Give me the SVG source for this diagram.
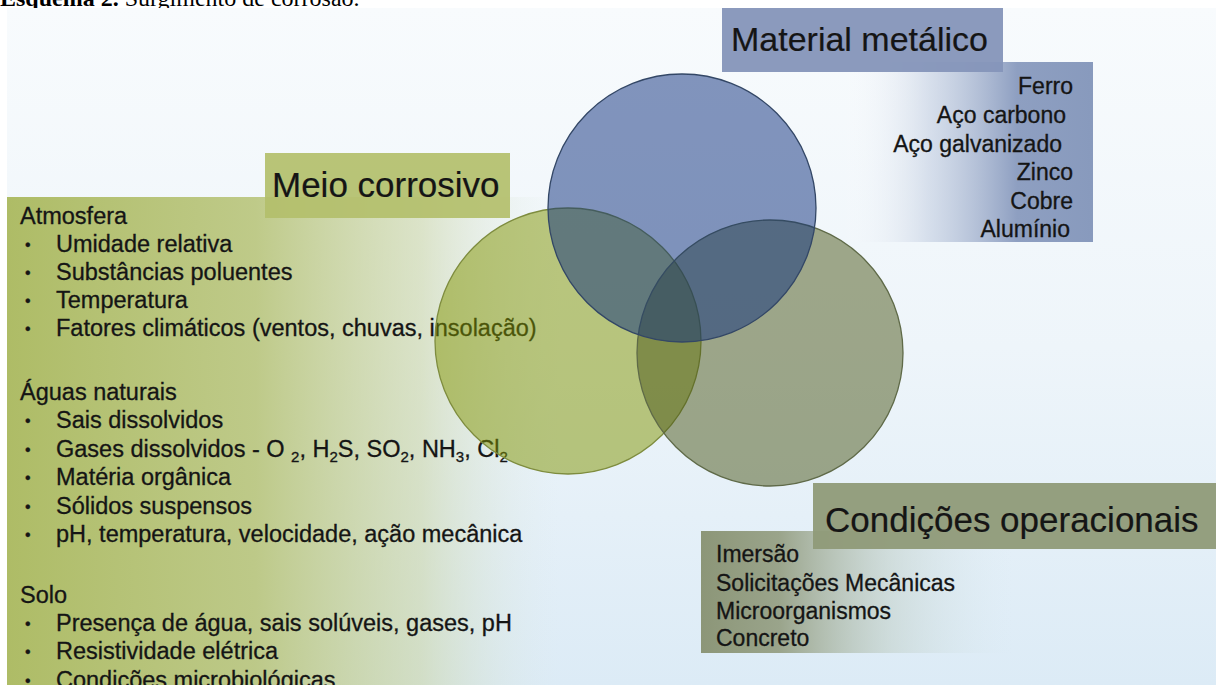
<svg xmlns="http://www.w3.org/2000/svg" width="1216" height="685" viewBox="0 0 1216 685">
<defs>
<linearGradient id="bg" x1="0" y1="0" x2="0" y2="1">
<stop offset="0" stop-color="#f8fbfd"/>
<stop offset="0.5" stop-color="#eef5fa"/>
<stop offset="1" stop-color="#dcebf6"/>
</linearGradient>
<linearGradient id="gLeft" x1="0" y1="0" x2="1" y2="0">
<stop offset="0" stop-color="#aebc66" stop-opacity="1"/>
<stop offset="0.45" stop-color="#b9c57c" stop-opacity="0.9"/>
<stop offset="0.75" stop-color="#c9d3a0" stop-opacity="0.55"/>
<stop offset="1" stop-color="#dde9e6" stop-opacity="0"/>
</linearGradient>
<linearGradient id="gBlue" x1="0" y1="0" x2="1" y2="0">
<stop offset="0" stop-color="#ffffff" stop-opacity="0"/>
<stop offset="0.35" stop-color="#c3cee1" stop-opacity="0.6"/>
<stop offset="0.7" stop-color="#8e9fc1" stop-opacity="1"/>
<stop offset="1" stop-color="#889abd" stop-opacity="1"/>
</linearGradient>
<linearGradient id="gOlive" x1="0" y1="0" x2="1" y2="0">
<stop offset="0" stop-color="#8c9678" stop-opacity="1"/>
<stop offset="0.25" stop-color="#96a085" stop-opacity="0.95"/>
<stop offset="0.6" stop-color="#bccabf" stop-opacity="0.5"/>
<stop offset="1" stop-color="#d8e8ee" stop-opacity="0"/>
</linearGradient>
<style>
.t{font-family:"Liberation Sans",Arial,Helvetica,sans-serif;fill:#151515;stroke:#151515;stroke-width:0.3}
.body{font-size:23px}
.lbody{font-size:23.5px}
.bul{font-size:16px}
.head{font-size:35px;stroke-width:0.2}
.title{font-family:"Liberation Serif","Times New Roman",serif;font-size:24px;fill:#000}
.circ{stroke-width:1.3}
</style>
</defs>

<rect x="0" y="0" width="1216" height="685" fill="#ffffff"/>
<text class="title" x="0" y="6"><tspan font-weight="bold">Esquema 2.</tspan> Surgimento de corrosão.</text>
<rect x="7" y="8" width="1209" height="677" fill="url(#bg)"/>

<g id="meio-corrosivo">
<rect x="7" y="197" width="553" height="488" fill="url(#gLeft)"/>
<rect x="265" y="153" width="245" height="65" fill="#b3bf6b" fill-opacity="0.92"/>
<text class="t head" x="272" y="197">Meio corrosivo</text>
<g class="t lbody">
<text x="20" y="224">Atmosfera</text>
<text class="bul" x="25" y="250">•</text><text x="56" y="252">Umidade relativa</text>
<text class="bul" x="25" y="278">•</text><text x="56" y="280">Substâncias poluentes</text>
<text class="bul" x="25" y="306">•</text><text x="56" y="308">Temperatura</text>
<text class="bul" x="25" y="334">•</text><text x="56" y="336">Fatores climáticos (ventos, chuvas, insolação)</text>
<text x="20" y="400">Águas naturais</text>
<text class="bul" x="25" y="426">•</text><text x="56" y="428">Sais dissolvidos</text>
<text class="bul" x="25" y="455">•</text><text x="56" y="457">Gases dissolvidos - O <tspan font-size="15" dy="5">2</tspan><tspan dy="-5">, H</tspan><tspan font-size="15" dy="5">2</tspan><tspan dy="-5">S, SO</tspan><tspan font-size="15" dy="5">2</tspan><tspan dy="-5">, NH</tspan><tspan font-size="15" dy="5">3</tspan><tspan dy="-5">, Cl</tspan><tspan font-size="15" dy="5">2</tspan></text>
<text class="bul" x="25" y="483">•</text><text x="56" y="485">Matéria orgânica</text>
<text class="bul" x="25" y="512">•</text><text x="56" y="514">Sólidos suspensos</text>
<text class="bul" x="25" y="540">•</text><text x="56" y="542">pH, temperatura, velocidade, ação mecânica</text>
<text x="20" y="603">Solo</text>
<text class="bul" x="25" y="629">•</text><text x="56" y="631">Presença de água, sais solúveis, gases, pH</text>
<text class="bul" x="25" y="657">•</text><text x="56" y="659">Resistividade elétrica</text>
<text class="bul" x="25" y="686">•</text><text x="56" y="688">Condições microbiológicas</text>
</g>
</g>

<g id="material-metalico">
<rect x="840" y="62" width="253" height="180" fill="url(#gBlue)"/>
<rect x="722" y="8" width="281" height="64" fill="#8595b9" fill-opacity="0.95"/>
<text class="t head" x="731" y="51" style="font-size:34px">Material metálico</text>
<g class="t body" text-anchor="end">
<text x="1073" y="94">Ferro</text>
<text x="1066" y="123">Aço carbono</text>
<text x="1062" y="152">Aço galvanizado</text>
<text x="1073" y="180">Zinco</text>
<text x="1073" y="209">Cobre</text>
<text x="1070" y="237">Alumínio</text>
</g>
</g>

<g id="condicoes-operacionais">
<rect x="701" y="531" width="312" height="122" fill="url(#gOlive)"/>
<rect x="813" y="483" width="403" height="66" fill="#8f9a78" fill-opacity="0.95"/>
<text class="t head" x="825" y="532">Condições operacionais</text>
<g class="t body">
<text x="716" y="562">Imersão</text>
<text x="716" y="591">Solicitações Mecânicas</text>
<text x="716" y="619">Microorganismos</text>
<text x="716" y="646">Concreto</text>
</g>
</g>

<g id="venn">
<circle id="circle-meio" class="circ" cx="568" cy="341" r="133" fill="#809400" fill-opacity="0.5" stroke="#7e8c3e"/>
<circle id="circle-condicoes" class="circ" cx="770" cy="353" r="133" fill="#4a5617" fill-opacity="0.5" stroke="#5f6a48"/>
<circle id="circle-material" class="circ" cx="682" cy="208" r="134" fill="#0c2e7b" fill-opacity="0.5" stroke="#334766"/>
</g>
<g id="connectors"></g>
</svg>
